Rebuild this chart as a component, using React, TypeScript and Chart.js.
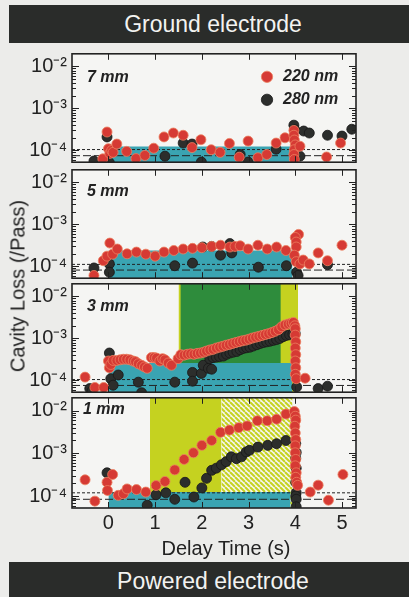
import React, { useEffect, useRef } from 'react';
import { Chart, registerables } from 'chart.js';

Chart.register(...registerables);

type Pt = [number, number];

const FONT = '"Liberation Sans", Arial, sans-serif';
Chart.defaults.font.family = FONT;
Chart.defaults.color = '#222';

// ---- axes ----
const X_MIN = -0.78;
const X_MAX = 5.3;
const Y_MIN = 5.25e-5;
const Y_MAX = 2.0e-2;
const X_TICK_STEP = 0.5;
const X_LABEL_VALUES = [0, 1, 2, 3, 4, 5];

const PANEL_NAMES = ['7 mm', '5 mm', '3 mm', '1 mm'];
const SERIES_NAMES = ['220 nm', '280 nm'];

// ---- 7 mm ----
const RED_7: Pt[] = [
  [-0.12, 6.3e-5], [-0.03, 2.75e-4], [0.0, 1.1e-4], [0.03, 8.5e-5], [0.07, 1.0e-4], [0.1, 9.0e-5],
  [0.18, 1.42e-4], [0.39, 9.5e-5], [0.59, 6.4e-5], [0.78, 7.6e-5], [0.97, 1.13e-4], [1.19, 2.1e-4],
  [1.39, 2.6e-4], [1.6, 2.3e-4], [1.79, 1.17e-4], [1.98, 1.8e-4], [2.2, 1.04e-4], [2.39, 9.0e-5],
  [2.59, 1.47e-4], [2.8, 6.9e-5], [2.99, 1.67e-4], [3.2, 6.7e-5], [3.39, 8.0e-5], [3.59, 1.5e-4],
  [3.78, 2.0e-4], [3.97, 3.0e-4], [3.97, 2.3e-4], [3.98, 1.77e-4], [4.0, 1.35e-4], [3.98, 1.04e-4],
  [3.97, 8.0e-5], [3.98, 6.1e-5], [4.1, 1.26e-4], [4.67, 7.0e-5], [4.97, 1.5e-4],
];
const BLACK_7: Pt[] = [
  [-0.31, 5.6e-5], [-0.03, 2.1e-4], [0.02, 5.1e-5], [1.21, 7.3e-5], [1.6, 1.5e-4], [1.79, 1.42e-4],
  [1.99, 5.3e-5], [2.82, 8.0e-5], [2.99, 5.3e-5], [3.59, 1.07e-4], [3.97, 4.0e-4], [3.99, 3.1e-4],
  [4.1, 7.3e-5], [4.18, 2.9e-4], [4.3, 2.6e-4], [4.69, 2.3e-4], [5.0, 2.2e-4], [5.21, 3.2e-4],
];

// ---- 5 mm ----
const RED_5: Pt[] = [
  [-0.31, 6.1e-5], [-0.11, 1.37e-4], [-0.03, 1.76e-4], [0.03, 3.6e-4], [0.09, 1.96e-4], [0.19, 2.6e-4],
  [0.4, 2.0e-4], [0.6, 2.2e-4], [0.8, 1.96e-4], [1.0, 1.76e-4], [1.19, 2.2e-4], [1.4, 2.4e-4],
  [1.6, 2.6e-4], [1.8, 2.7e-4], [2.0, 2.8e-4], [2.21, 3.0e-4], [2.4, 3.2e-4], [2.6, 2.9e-4],
  [2.71, 3.0e-4], [2.82, 3.1e-4], [2.99, 2.6e-4], [3.2, 3.2e-4], [3.4, 2.6e-4], [3.6, 2.9e-4],
  [3.8, 2.4e-4], [4.07, 5.8e-4], [4.0, 4.9e-4], [4.02, 3.8e-4], [4.02, 2.9e-4], [3.98, 1.85e-4],
  [4.02, 1.3e-4], [4.1, 1.15e-4], [4.17, 1.42e-4], [4.3, 1.15e-4], [4.49, 2.1e-4], [4.69, 1.37e-4],
  [5.0, 3.2e-4],
];
const BLACK_5: Pt[] = [
  [-0.31, 9.2e-5], [0.02, 1.15e-4], [0.02, 7.3e-5], [1.42, 1.04e-4], [1.8, 1.2e-4], [2.02, 2.9e-4],
  [2.21, 3.0e-4], [2.4, 1.86e-4], [2.6, 3.5e-4], [2.64, 2.1e-4], [3.21, 9.6e-5], [3.81, 1.04e-4],
  [4.03, 7.3e-5], [4.06, 6.1e-5], [4.69, 1.1e-4],
];

// ---- 3 mm ----
const RED_3: Pt[] = [
  [-0.5, 1.2e-4], [-0.29, 6.8e-5], [-0.1, 6.8e-5], [0.0, 2.9e-4], [0.02, 2.0e-4], [0.05, 2.4e-4],
  [0.1, 3.0e-4], [0.18, 3.0e-4], [0.25, 3.1e-4], [0.32, 3.2e-4], [0.39, 3.2e-4], [0.46, 3.1e-4],
  [0.53, 2.9e-4], [0.58, 2.8e-4], [0.64, 2.5e-4], [0.71, 2.3e-4], [0.77, 2.1e-4], [0.83, 1.95e-4],
  [0.92, 3.5e-4], [0.98, 3.5e-4], [1.03, 3.4e-4], [1.1, 2.9e-4], [1.16, 3.3e-4], [1.21, 3.1e-4],
  [1.28, 2.6e-4], [1.35, 2.3e-4], [1.49, 3.3e-4],
  [1.55, 4.1e-4], [1.62, 4.0e-4], [1.69, 4.2e-4], [1.76, 4.3e-4], [1.83, 4.2e-4], [1.9, 4.4e-4],
  [1.97, 4.5e-4], [2.04, 4.7e-4], [2.1, 5.0e-4], [2.17, 5.3e-4], [2.24, 5.5e-4], [2.31, 5.9e-4],
  [2.38, 6.2e-4], [2.45, 6.5e-4], [2.52, 6.9e-4], [2.59, 7.2e-4], [2.66, 7.6e-4], [2.73, 8.0e-4],
  [2.8, 8.4e-4], [2.87, 8.8e-4], [2.94, 9.1e-4], [3.01, 9.6e-4], [3.08, 1.02e-3], [3.15, 1.07e-3],
  [3.22, 1.12e-3], [3.29, 1.18e-3], [3.36, 1.24e-3], [3.43, 1.3e-3], [3.5, 1.38e-3], [3.57, 1.48e-3],
  [3.64, 1.62e-3], [3.71, 1.9e-3], [3.78, 2.1e-3], [3.85, 2.2e-3], [3.91, 2.3e-3], [3.96, 2.4e-3],
  [3.99, 2.0e-3], [4.0, 1.7e-3], [4.0, 1.2e-3], [4.01, 8.3e-4], [4.0, 5.9e-4], [4.01, 4.1e-4],
  [4.0, 2.9e-4], [4.01, 2.0e-4], [4.0, 1.4e-4], [4.02, 1.1e-4], [4.21, 1.13e-4],
];
const BLACK_3: Pt[] = [
  [-0.4, 6.4e-5], [-0.35, 5.6e-5], [0.02, 4.5e-4], [0.05, 1.1e-4], [0.1, 7.7e-5], [0.21, 1.35e-4],
  [0.64, 9.1e-5], [0.71, 5.1e-5], [1.42, 9.1e-5], [1.8, 1.55e-4], [1.8, 9.6e-5], [1.99, 1.47e-4],
  [2.03, 2.3e-4], [2.14, 1.94e-4], [2.21, 1.85e-4],
  [2.17, 3.3e-4], [2.24, 3.5e-4], [2.31, 3.6e-4], [2.38, 3.7e-4], [2.46, 3.8e-4], [2.53, 4.2e-4],
  [2.6, 4.5e-4], [2.67, 4.7e-4], [2.75, 4.9e-4], [2.82, 5.4e-4], [2.89, 5.8e-4], [2.96, 6.0e-4],
  [3.03, 6.2e-4], [3.1, 6.6e-4], [3.18, 7.1e-4], [3.25, 7.6e-4], [3.32, 8.0e-4], [3.39, 8.3e-4],
  [3.46, 8.6e-4], [3.53, 9.0e-4], [3.6, 9.4e-4], [3.67, 1.0e-3], [3.74, 1.1e-3], [3.81, 1.18e-3],
  [3.88, 1.22e-3], [3.95, 1.28e-3], [4.0, 1.3e-3],
  [4.03, 7.0e-5], [4.49, 6.4e-5], [4.69, 7.3e-5],
];

// ---- 1 mm ----
const RED_1: Pt[] = [
  [-0.5, 2.4e-4], [-0.29, 7.6e-5], [-0.03, 2.1e-4], [-0.02, 1.35e-4], [0.09, 3.2e-4], [0.21, 1.04e-4],
  [0.32, 1.13e-4], [0.4, 1.47e-4], [0.6, 1.42e-4], [0.8, 1.24e-4], [1.02, 1.76e-4], [1.21, 2.2e-4],
  [1.42, 4.1e-4], [1.62, 7.2e-4], [1.82, 1.03e-3], [2.0, 1.54e-3], [2.21, 2.0e-3], [2.4, 3.1e-3],
  [2.59, 3.5e-3], [2.79, 4.0e-3], [2.97, 4.4e-3], [3.19, 5.8e-3], [3.4, 5.8e-3], [3.6, 6.3e-3],
  [3.8, 8.3e-3], [3.98, 9.5e-3], [4.0, 7.4e-3], [4.01, 6.0e-3], [3.99, 4.3e-3], [4.0, 3.0e-3],
  [4.01, 2.1e-3], [4.0, 1.5e-3], [4.0, 1.03e-3], [4.01, 7.2e-4], [4.0, 5.1e-4], [4.02, 3.5e-4],
  [4.01, 2.75e-4], [4.03, 2.1e-4], [4.05, 1.78e-4], [4.32, 1.24e-4], [4.49, 1.8e-4], [4.71, 8.0e-5],
  [5.02, 3.2e-4],
];
const BLACK_1: Pt[] = [
  [-0.03, 3.5e-4], [0.83, 6.1e-5], [1.02, 1.07e-4], [1.23, 1.19e-4], [1.42, 8.4e-5], [1.64, 2.1e-4],
  [1.83, 9.5e-5], [2.0, 1.55e-4], [2.1, 2.6e-4], [2.21, 4.0e-4], [2.31, 4.5e-4], [2.42, 5.4e-4],
  [2.52, 6.4e-4], [2.63, 8.3e-4], [2.74, 7.5e-4], [2.85, 8.3e-4], [2.95, 1.08e-3], [3.02, 1.18e-3],
  [3.2, 1.4e-3], [3.41, 1.54e-3], [3.6, 1.68e-3], [3.8, 2.0e-3], [4.01, 1.7e-3], [4.02, 1.05e-3],
  [4.01, 7.7e-4], [4.02, 4.5e-4], [4.01, 2.1e-4], [4.02, 1.2e-4], [4.01, 1.0e-4], [4.02, 8.4e-5],
  [4.02, 5.6e-5],
];

const RED_SERIES = [RED_7, RED_5, RED_3, RED_1];
const BLACK_SERIES = [BLACK_7, BLACK_5, BLACK_3, BLACK_1];

// ---- baseline band and reference levels ----
const TEAL_START = [0, 0, 0, 0];
const TEAL_END = [3.94, 3.94, 3.94, 3.9];
const TEAL_TOP = [1.24e-4, 2.4e-4, 2.6e-4, 1.24e-4];
const DOTTED_LEVEL = [1.05e-4, 1.12e-4, 1.05e-4, 1.19e-4];
const DASHED_LEVEL = [7.5e-5, 8.2e-5, 7.6e-5, 8.4e-5];

// ---- shaded time windows (s) ----
const P3_YELLOW: Pt = [1.5, 4.06];
const P3_GREEN: Pt = [1.54, 3.69];
const P4_YELLOW: Pt = [0.89, 2.42];
const P4_HATCH: Pt = [2.42, 3.94];

// ---- styles ----
const RED = 'rgb(214,58,52)';
const RED_EDGE = 'rgb(236,128,96)';
const BLACK = 'rgb(44,46,44)';
const BLACK_EDGE = 'rgb(24,24,24)';
const TEAL = 'rgb(58,164,178)';
const GREEN = 'rgb(46,140,60)';
const YELLOW = 'rgb(197,210,32)';
const INK = '#222';
const PLOT_BG = '#f5f5f3';
const PAGE_BG = '#ececea';

const PANEL_TOP = [52, 168, 282, 396];
const PANEL_H = 112;
const LABEL_DY = [24, 22, 23, 12];
const LABEL_DX = [15, 15, 15, 11];

const SUP: Record<string, string> = {
  '-': '\u207B', '0': '\u2070', '1': '\u00B9', '2': '\u00B2', '3': '\u00B3', '4': '\u2074',
  '5': '\u2075', '6': '\u2076', '7': '\u2077', '8': '\u2078', '9': '\u2079',
};
const decadeLabel = (v: number) => {
  const lg = Math.log10(v);
  const e = Math.round(lg);
  if (Math.abs(lg - e) > 1e-6) return null;
  return '10' + String(e).split('').map((c) => SUP[c] || c).join('');
};

const toXY = (pts: Pt[]) => pts.map(([x, y]) => ({ x, y }));

const makeHatch = () => {
  const s = 5;
  const c = document.createElement('canvas');
  c.width = s;
  c.height = s;
  const g = c.getContext('2d')!;
  g.fillStyle = '#f4f5ea';
  g.fillRect(0, 0, s, s);
  g.strokeStyle = YELLOW;
  g.lineWidth = 2;
  for (let k = -1; k <= 1; k++) {
    g.beginPath();
    g.moveTo(k * s, 0);
    g.lineTo(k * s + s, s);
    g.stroke();
  }
  return g.createPattern(c, 'repeat')!;
};

const framePlugin = {
  id: 'frame',
  beforeDraw(chart: any) {
    const { ctx, chartArea: a } = chart;
    ctx.save();
    ctx.fillStyle = PLOT_BG;
    ctx.fillRect(a.left, a.top, a.width, a.height);
    ctx.restore();
  },
  afterDatasetsDraw(chart: any, _args: any, opts: any) {
    const { ctx, chartArea: a, scales } = chart;
    const xs = scales.x;
    const ys = scales.y;
    ctx.save();
    ctx.strokeStyle = INK;
    ctx.lineWidth = 1;
    const seg = (x1: number, y1: number, x2: number, y2: number) => {
      ctx.beginPath();
      ctx.moveTo(x1, y1);
      ctx.lineTo(x2, y2);
      ctx.stroke();
    };
    for (const t of xs.ticks) {
      const px = Math.round(xs.getPixelForValue(t.value)) + 0.5;
      if (px <= a.left + 1 || px >= a.right - 1) continue;
      const len = Math.abs(t.value - Math.round(t.value)) < 1e-9 ? 6 : 4;
      seg(px, a.top, px, a.top + len);
      seg(px, a.bottom, px, a.bottom - len);
    }
    const e0 = Math.floor(Math.log10(ys.min));
    const e1 = Math.ceil(Math.log10(ys.max));
    for (let e = e0; e <= e1; e++) {
      for (let m = 1; m <= 9; m++) {
        const v = m * Math.pow(10, e);
        if (v <= ys.min || v >= ys.max) continue;
        const py = Math.round(ys.getPixelForValue(v)) + 0.5;
        const len = m === 1 ? 7 : 4;
        seg(a.left, py, a.left + len, py);
        seg(a.right, py, a.right - len, py);
      }
    }
    ctx.lineWidth = 1.6;
    ctx.strokeRect(a.left, a.top, a.width, a.height);
    ctx.fillStyle = INK;
    ctx.font = `italic bold 16px ${FONT}`;
    ctx.textBaseline = 'middle';
    ctx.textAlign = 'left';
    ctx.fillText(opts.label, a.left + opts.dx, a.top + opts.dy);
    ctx.restore();
  },
};

const legendPlacePlugin = {
  id: 'legendPlace',
  afterLayout(chart: any) {
    const lg = chart.legend;
    if (!lg || !chart.options.plugins.legend.display) return;
    const a = chart.chartArea;
    lg.left = a.right - 104;
    lg.top = a.top + 8;
    lg.right = lg.left + lg.width;
    lg.bottom = lg.top + lg.height;
  },
};

function Panel({ idx }: { idx: number }) {
  const ref = useRef<HTMLCanvasElement>(null);
  const isBottom = idx === 3;
  const padT = 4;
  const padB = isBottom ? 0 : 4;
  const xAxisH = isBottom ? 30 : 0;
  const h = padT + PANEL_H + padB + xAxisH;

  useEffect(() => {
    const canvas = ref.current!;
    const hatch = makeHatch();
    const pointSet = (label: string, pts: Pt[], fill: string, edge: string, order: number) => ({
      type: 'line',
      label,
      data: toXY(pts),
      showLine: false,
      pointRadius: 5,
      pointBorderWidth: 0.8,
      pointBackgroundColor: fill,
      pointBorderColor: edge,
      backgroundColor: fill,
      borderColor: edge,
      borderWidth: 0.8,
      order,
    });
    const level = (y: number, dash: number[], order: number) => ({
      type: 'line',
      data: [{ x: X_MIN, y }, { x: X_MAX, y }],
      borderColor: INK,
      borderWidth: 1,
      borderDash: dash,
      pointRadius: 0,
      fill: false,
      order,
    });
    const band = (x0: number, x1: number, top: number, color: any, order: number) => ({
      type: 'line',
      data: [{ x: x0, y: top }, { x: x1, y: top }],
      fill: 'start',
      backgroundColor: color,
      borderColor: 'rgba(0,0,0,0)',
      borderWidth: 0,
      pointRadius: 0,
      order,
    });

    const datasets: any[] = [
      pointSet(SERIES_NAMES[0], RED_SERIES[idx], RED, RED_EDGE, 0),
      pointSet(SERIES_NAMES[1], BLACK_SERIES[idx], BLACK, BLACK_EDGE, 1),
      level(DOTTED_LEVEL[idx], [3, 2], 2),
      level(DASHED_LEVEL[idx], [8, 3], 3),
      band(TEAL_START[idx], TEAL_END[idx], TEAL_TOP[idx], TEAL, 4),
    ];
    if (idx === 2) {
      datasets.push(band(P3_GREEN[0], P3_GREEN[1], Y_MAX, GREEN, 5));
      datasets.push(band(P3_YELLOW[0], P3_YELLOW[1], Y_MAX, YELLOW, 6));
    }
    if (idx === 3) {
      datasets.push(band(P4_HATCH[0], P4_HATCH[1], Y_MAX, hatch, 5));
      datasets.push(band(P4_YELLOW[0], P4_YELLOW[1], Y_MAX, YELLOW, 6));
    }

    const chart = new Chart(canvas, {
      type: 'line',
      data: { datasets },
      options: {
        animation: false,
        responsive: false,
        events: [],
        layout: { padding: { top: padT, bottom: padB, left: 0, right: 53 } },
        scales: {
          x: {
            type: 'linear',
            min: X_MIN,
            max: X_MAX,
            grid: { display: false, drawTicks: false },
            border: { display: false },
            ticks: {
              display: isBottom,
              stepSize: X_TICK_STEP,
              autoSkip: false,
              includeBounds: false,
              maxRotation: 0,
              padding: 3,
              color: INK,
              font: { size: 20, family: FONT },
              callback: (v: any) => (X_LABEL_VALUES.includes(Number(v)) ? String(v) : null),
            },
            afterFit: (s: any) => {
              s.height = xAxisH;
              s.paddingLeft = 0;
              s.paddingRight = 0;
            },
          },
          y: {
            type: 'logarithmic',
            min: Y_MIN,
            max: Y_MAX,
            grid: { display: false, drawTicks: false },
            border: { display: false },
            ticks: {
              autoSkip: false,
              padding: 5,
              color: INK,
              font: { size: 20, family: FONT },
              callback: (v: any) => decadeLabel(Number(v)),
            },
            afterFit: (s: any) => {
              s.width = 72;
              s.paddingTop = 0;
              s.paddingBottom = 0;
            },
          },
        },
        plugins: {
          tooltip: { enabled: false },
          legend: {
            display: idx === 0,
            position: 'chartArea',
            align: 'start',
            labels: {
              usePointStyle: true,
              pointStyle: 'circle',
              boxWidth: 16,
              boxHeight: 8,
              padding: 7,
              color: INK,
              font: { size: 16, style: 'italic', weight: 'bold', family: FONT },
              filter: (item: any) => !!item.text,
            },
          },
          frame: { label: PANEL_NAMES[idx], dx: LABEL_DX[idx], dy: LABEL_DY[idx] },
        } as any,
      } as any,
      plugins: [framePlugin, legendPlacePlugin],
    } as any);
    return () => chart.destroy();
  }, []);

  return (
    <canvas
      ref={ref}
      width={409}
      height={h}
      style={{ position: 'absolute', left: 0, top: PANEL_TOP[idx] - padT, width: 409, height: h }}
    />
  );
}

export default function App() {
  const bar: React.CSSProperties = {
    position: 'absolute',
    left: 9,
    width: 400,
    background: '#2a2c2a',
    color: '#f3f3f1',
    fontSize: 23,
    textAlign: 'center',
    paddingLeft: 8,
    boxSizing: 'border-box',
    whiteSpace: 'nowrap',
  };
  return (
    <div
      style={{
        position: 'absolute',
        left: 0,
        top: 0,
        width: 409,
        height: 597,
        background: PAGE_BG,
        overflow: 'hidden',
        fontFamily: FONT,
        color: INK,
      }}
    >
      <div style={{ ...bar, top: 5, height: 38, lineHeight: '38px' }}>Ground electrode</div>
      {[0, 1, 2, 3].map((i) => (
        <Panel key={i} idx={i} />
      ))}
      <div
        style={{
          position: 'absolute',
          left: 18,
          top: 286,
          transform: 'translate(-50%, -50%) rotate(-90deg)',
          fontSize: 20,
          whiteSpace: 'nowrap',
        }}
      >
        Cavity Loss (/Pass)
      </div>
      <div
        style={{
          position: 'absolute',
          left: 226,
          top: 548,
          transform: 'translate(-50%, -50%)',
          fontSize: 20,
          whiteSpace: 'nowrap',
        }}
      >
        Delay Time (s)
      </div>
      <div style={{ ...bar, top: 562, height: 35, lineHeight: '38px' }}>Powered electrode</div>
    </div>
  );
}
